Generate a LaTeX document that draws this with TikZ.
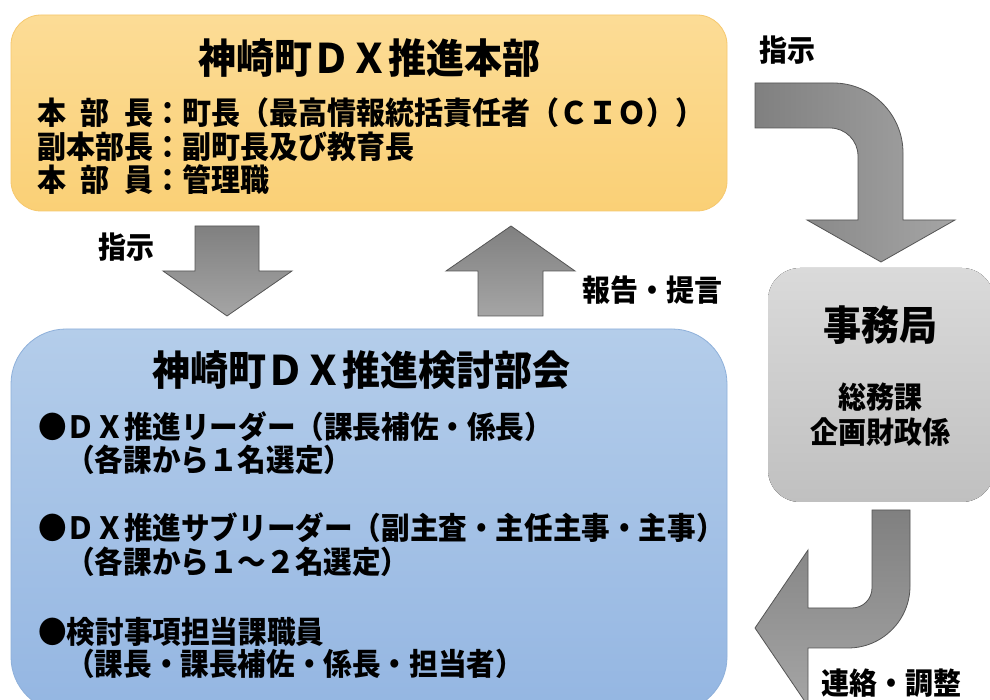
\documentclass[tikz,border=0pt]{standalone}
\usepackage{fontspec}
\usepackage{graphicx}
\setmainfont{Noto Sans CJK JP}
\newcommand{\vstretch}[1]{\scalebox{1}[1.07]{#1}}
\begin{document}
\begin{tikzpicture}[x=1pt,y=1pt,
  title/.style={font=\bfseries\fontsize{38pt}{42pt}\selectfont, inner sep=0pt},
  body/.style={font=\bfseries\fontsize{29pt}{34pt}\selectfont, inner sep=0pt, anchor=west},
  bodyb/.style={font=\bfseries\fontsize{28.6pt}{33pt}\selectfont, inner sep=0pt, anchor=west},
  lbl/.style={font=\bfseries\fontsize{28pt}{33pt}\selectfont, inner sep=0pt},
  blockarrow/.style={draw={rgb,255:red,85;green,85;blue,85}, line width=0.8pt}
]
\definecolor{orT}{RGB}{252,220,150}
\definecolor{orB}{RGB}{250,208,118}
\definecolor{orD}{RGB}{246,200,110}
\definecolor{blT}{RGB}{180,205,234}
\definecolor{blB}{RGB}{148,182,226}
\definecolor{blD}{RGB}{142,176,218}
\definecolor{grT}{RGB}{218,218,218}
\definecolor{grB}{RGB}{192,192,192}
\definecolor{arD}{RGB}{128,128,128}
\definecolor{arL}{RGB}{165,165,165}
\useasboundingbox (0,0) rectangle (990,700);
\fill[white] (0,0) rectangle (990,700);

% boxes
\draw[orD, line width=0.8pt, top color=orT, bottom color=orB, rounded corners=30pt]
  (11,685) rectangle (727,489);
\draw[blD, line width=0.8pt, top color=blT, bottom color=blB, rounded corners=55pt]
  (11,371) rectangle (727,-12);
\fill[top color=grT, bottom color=grB, rounded corners=32pt]
  (768,432) rectangle (994,198);

% straight arrows
\path[blockarrow, top color=arD, bottom color=arL]
  (195,474) -- (259,474) -- (259,429) -- (292,429) -- (227,384) -- (163,429) -- (195,429) -- cycle;
\path[blockarrow, top color=arD, bottom color=arL]
  (478,384) -- (543,384) -- (543,429) -- (575,429) -- (511,474) -- (446,429) -- (478,429) -- cycle;

% curved arrow top right
\path[blockarrow, left color=arD, right color=arL]
  (755,617) -- (833,617) arc[start angle=90,end angle=0,radius=70pt]
  -- (903,480) -- (955,480) -- (881,438) -- (807,480) -- (858,480)
  -- (858,544) arc[start angle=0,end angle=90,radius=28pt]
  -- (755,572) -- cycle;

% curved arrow bottom right
\path[blockarrow, top color=arD, bottom color=arL]
  (872,190) -- (910,190) -- (910,114) arc[start angle=0,end angle=-90,radius=62pt]
  -- (808,52) -- (808,-6) -- (755,72) -- (808,150) -- (808,92)
  -- (852,92) arc[start angle=-90,end angle=0,radius=20pt]
  -- cycle;

% top box text
\node[title] (t1) at (369,642) {\vstretch{神崎町ＤＸ推進本部}};
\node[body] (t1a) at (37,587) {\vstretch{\makebox[4em][s]{本\hfill 部\hfill 長}：町長（最高情報統括責任者（ＣＩＯ））}};
\node[body] (t1b) at (37,553) {\vstretch{副本部長：副町長及び教育長}};
\node[body] (t1c) at (37,520) {\vstretch{\makebox[4em][s]{本\hfill 部\hfill 員}：管理職}};

% blue box text
\node[title] (t2) at (361,330) {\vstretch{神崎町ＤＸ推進検討部会}};
\node[bodyb] (b1) at (38,273) {\vstretch{●ＤＸ推進リーダー（課長補佐・係長）}};
\node[bodyb] (b1s) at (66,240) {\vstretch{（各課から１名選定）}};
\node[bodyb] (b2) at (38,172) {\vstretch{●ＤＸ推進サブリーダー（副主査・主任主事・主事）}};
\node[bodyb] (b2s) at (66,138) {\vstretch{（各課から１～２名選定）}};
\node[bodyb] (b3) at (38,68) {\vstretch{●検討事項担当課職員}};
\node[bodyb] (b3s) at (66,36) {\vstretch{（課長・課長補佐・係長・担当者）}};

% gray box text
\node[title] (t3) at (880,375) {\vstretch{事務局}};
\node[lbl] (t3a) at (880,303) {\vstretch{総務課}};
\node[lbl] (t3b) at (880,268) {\vstretch{企画財政係}};

% labels
\node[lbl] (l1) at (126,453) {\vstretch{指示}};
\node[lbl] (l2) at (652,410) {\vstretch{報告・提言}};
\node[lbl] (l3) at (787,650) {\vstretch{指示}};
\node[lbl] (l4) at (891,17) {\vstretch{連絡・調整}};
\end{tikzpicture}
\end{document}
